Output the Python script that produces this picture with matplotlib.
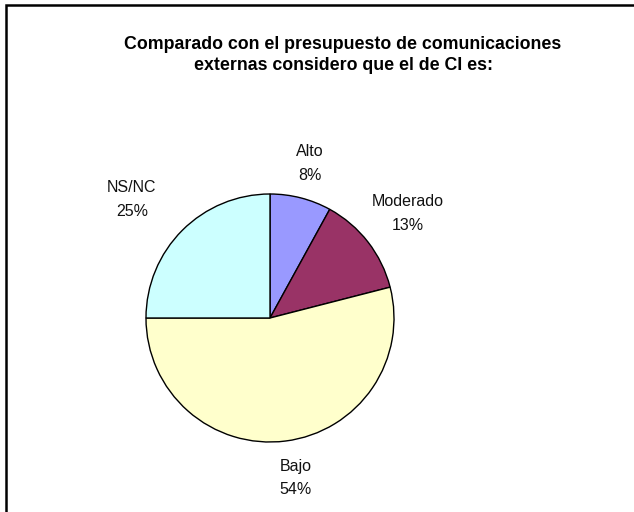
import numpy as np
import matplotlib
matplotlib.use("Agg")
import matplotlib.pyplot as plt
from matplotlib.patches import Rectangle

plt.rcParams['font.family'] = ['Liberation Sans', 'DejaVu Sans']

# categories and shares
categorias = ["Alto", "Moderado", "Bajo", "NS/NC"]
porcentajes = [8, 13, 54, 25]
colores = ["#9999ff", "#993366", "#ffffcc", "#ccffff"]
titulo = "Comparado con el presupuesto de comunicaciones\nexternas considero que el de CI es:"

W, H = 634, 512
fig = plt.figure(figsize=(W / 100, H / 100), dpi=100)
ax = fig.add_axes([0, 0, 1, 1])

# pixel-like coordinates, y measured from the bottom
cx, cy, r = 270, H - 318, 124
wedges, _ = ax.pie(porcentajes, colors=colores, startangle=90, counterclock=False,
                   center=(cx, cy), radius=r,
                   wedgeprops=dict(edgecolor="black", linewidth=1.0))

ax.set_xlim(0, W)
ax.set_ylim(0, H)
ax.set_aspect("equal")
ax.axis("off")

# outer frame, cut off on the right and bottom
ax.add_patch(Rectangle((6, -100), 800, H - 5 + 100, fill=False, edgecolor="black", lw=1.8))

# label placement, pixels from the top-left corner
pos_etiquetas = [(310, 164), (408, 214), (296, 478), (132, 200)]
for cat, p, (x, y) in zip(categorias, porcentajes, pos_etiquetas):
    ax.text(x, H - y, f"{cat}\n{p}%", ha="center", va="center", fontsize=11.5,
            linespacing=1.75, color="#111111")

ax.text(343, H - 55, titulo, ha="center", va="center", fontsize=12.8, fontweight="bold",
        linespacing=1.3)

fig.savefig("out.png", dpi=100)
